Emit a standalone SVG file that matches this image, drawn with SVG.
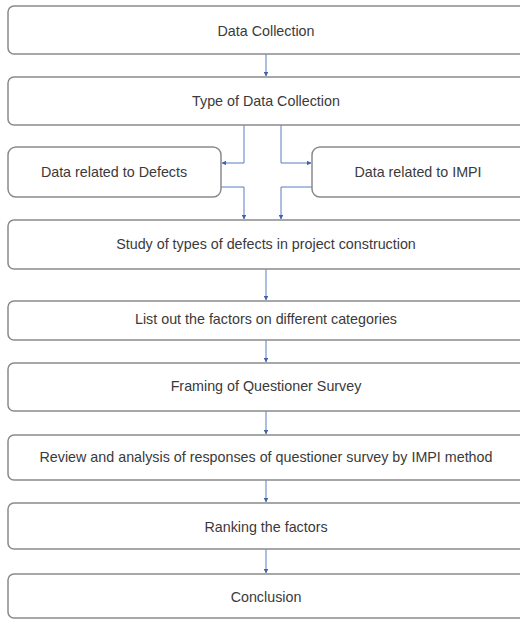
<svg xmlns="http://www.w3.org/2000/svg" width="520" height="621" viewBox="0 0 520 621">
<defs>
<style>
.box{fill:#fff;stroke:#8a8a8a;stroke-width:1.5}
.t{font-family:"Liberation Sans",Arial,sans-serif;font-size:14.3px;fill:#3a3a3a;text-anchor:middle;dominant-baseline:central}
.c{fill:none;stroke:#5b7fc0;stroke-width:1}
</style>
<marker id="ah" viewBox="0 0 6 6" refX="5.5" refY="3" markerWidth="4.5" markerHeight="4.5" orient="auto">
<path d="M0,0 L6,3 L0,6 Z" fill="#3d63a8"/>
</marker>
</defs>
<rect width="520" height="621" fill="#fff"/>
<g id="connectors">
<line class="c" x1="266" y1="54" x2="266" y2="76" marker-end="url(#ah)"/>
<polyline class="c" points="244,125 244,163 222,163" marker-end="url(#ah)"/>
<polyline class="c" points="281,125 281,163 311,163" marker-end="url(#ah)"/>
<polyline class="c" points="221,187 244,187 244,219" marker-end="url(#ah)"/>
<polyline class="c" points="312,187 281,187 281,219" marker-end="url(#ah)"/>
<line class="c" x1="266" y1="269" x2="266" y2="300" marker-end="url(#ah)"/>
<line class="c" x1="266" y1="340" x2="266" y2="362" marker-end="url(#ah)"/>
<line class="c" x1="266" y1="411" x2="266" y2="434" marker-end="url(#ah)"/>
<line class="c" x1="266" y1="480" x2="266" y2="502" marker-end="url(#ah)"/>
<line class="c" x1="266" y1="549" x2="266" y2="573" marker-end="url(#ah)"/>
</g>
<g id="n1"><rect class="box" x="8" y="6" width="520" height="48" rx="6"/><text class="t" x="266" y="31">Data Collection</text></g>
<g id="n2"><rect class="box" x="8" y="77" width="520" height="48" rx="6"/><text class="t" x="266" y="101">Type of Data Collection</text></g>
<g id="n3"><rect class="box" x="8" y="147" width="213" height="50" rx="8"/><text class="t" x="114" y="172">Data related to Defects</text></g>
<g id="n4"><rect class="box" x="312" y="147" width="216" height="50" rx="8"/><text class="t" x="418" y="172">Data related to IMPI</text></g>
<g id="n5"><rect class="box" x="8" y="220" width="520" height="49" rx="6"/><text class="t" x="266" y="244">Study of types of defects in project construction</text></g>
<g id="n6"><rect class="box" x="8" y="301" width="520" height="39" rx="6"/><text class="t" x="266" y="319">List out the factors on different categories</text></g>
<g id="n7"><rect class="box" x="8" y="363" width="520" height="48" rx="6"/><text class="t" x="266" y="386">Framing of Questioner Survey</text></g>
<g id="n8"><rect class="box" x="8" y="435" width="520" height="45" rx="6"/><text class="t" x="266" y="457">Review and analysis of responses of questioner survey by IMPI method</text></g>
<g id="n9"><rect class="box" x="8" y="503" width="520" height="46" rx="6"/><text class="t" x="266" y="527">Ranking the factors</text></g>
<g id="n10"><rect class="box" x="8" y="574" width="520" height="44" rx="6"/><text class="t" x="266" y="597">Conclusion</text></g>
</svg>
